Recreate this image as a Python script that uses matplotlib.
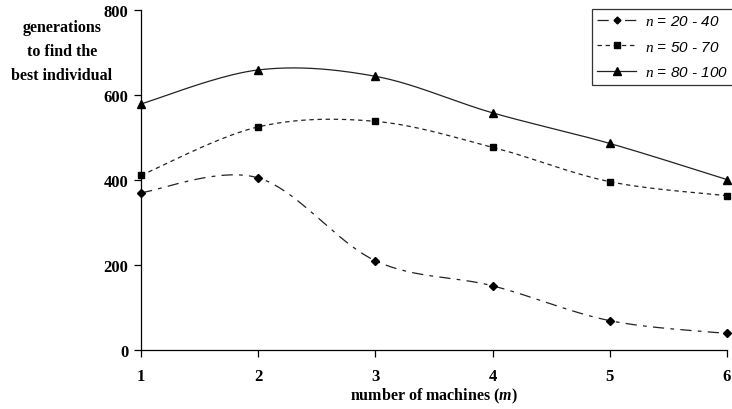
import numpy as np
import matplotlib
matplotlib.use("Agg")
import matplotlib.pyplot as plt
from matplotlib.lines import Line2D

plt.rcParams["mathtext.fontset"] = "custom"
plt.rcParams["mathtext.it"] = "Liberation Serif:italic"
plt.rcParams["mathtext.bfit"] = "Liberation Serif:italic:bold"
plt.rcParams["mathtext.rm"] = "Liberation Serif"

machines = [1, 2, 3, 4, 5, 6]
n_20_40 = [370, 405, 210, 151, 69, 39]
n_50_70 = [411, 525, 538, 477, 396, 363]
n_80_100 = [579, 659, 644, 558, 486, 401]
labels = [" = 20 - 40", " = 50 - 70", " = 80 - 100"]
yticks = [0, 200, 400, 600, 800]


def smooth(x, y, n=40):
    """Excel-like smoothing: Catmull-Rom Bezier through data points."""
    x = np.asarray(x, float)
    y = np.asarray(y, float)
    P = np.column_stack([x, y])
    out = []
    for i in range(len(P) - 1):
        p0 = P[i - 1] if i > 0 else P[i]
        p1 = P[i]
        p2 = P[i + 1]
        p3 = P[i + 2] if i + 2 < len(P) else P[i + 1]
        c1 = p1 + (p2 - p0) / 6.0
        c2 = p2 - (p3 - p1) / 6.0
        t = np.linspace(0, 1, n)[:, None]
        seg = ((1 - t) ** 3) * p1 + 3 * ((1 - t) ** 2) * t * c1 + 3 * (1 - t) * t ** 2 * c2 + t ** 3 * p2
        out.append(seg if i == 0 else seg[1:])
    s = np.vstack(out)
    return s[:, 0], s[:, 1]


fig = plt.figure(figsize=(7.32, 4.10), dpi=100)
ax = fig.add_axes([141 / 732, 1 - 351 / 410, (727 - 141) / 732, (351 - 11) / 410])

serif = "Liberation Serif"
col = "#000000"
lc = "#222222"
styles = [
    dict(ls=(0, (9, 5, 3, 5)), marker="D", ms=4),
    dict(ls=(0, (3.5, 3)), marker="s", ms=5),
    dict(ls="-", marker="^", ms=6),
]
series = [n_20_40, n_50_70, n_80_100]
handles = []
for vals, st in zip(series, styles):
    sx, sy = smooth(machines, vals)
    ax.plot(sx, sy, color=lc, lw=0.9, linestyle=st["ls"])
    ax.plot(machines, vals, linestyle="none", marker=st["marker"], ms=st["ms"],
            color=col, clip_on=False)
    handles.append(Line2D([], [], color=lc, lw=0.9, linestyle=st["ls"],
                          marker=st["marker"], ms=st["ms"] - 0.5, mfc=col, mec=col))

ax.set_xlim(1, 6)
ax.set_ylim(0, 800)
ax.set_xticks(machines)
ax.set_yticks(yticks)
ax.spines["top"].set_visible(False)
ax.spines["right"].set_visible(False)
for s in ["left", "bottom"]:
    ax.spines[s].set_linewidth(0.9)
ax.tick_params(direction="out", length=5, width=0.9, pad=4)
for lbl in ax.get_xticklabels() + ax.get_yticklabels():
    lbl.set_fontfamily(serif)
    lbl.set_fontweight("bold")
    lbl.set_fontsize(12)
ax.tick_params(axis="x", pad=8)

fig.text(62 / 732, 1 - 52 / 410, "generations\nto find the\nbest individual",
         ha="center", va="center", fontfamily=serif, fontweight="bold",
         fontsize=11.5, linespacing=1.7)
fig.text(434 / 732, 1 - 396 / 410, r"number of machines ($\mathbfit{m}$)",
         ha="center", va="center", fontfamily=serif, fontweight="bold", fontsize=11.5)

leg = fig.legend(handles, [r"$n$" + l for l in labels], loc="upper left",
                 bbox_to_anchor=(592 / 732, 1 - 10 / 410), frameon=True,
                 fancybox=False, edgecolor="black", handlelength=2.55,
                 handletextpad=0.6, borderpad=0.35, labelspacing=0.75,
                 borderaxespad=0,
                 prop=dict(family="Liberation Sans", style="italic", size=11))
leg.get_frame().set_linewidth(0.9)

fig.savefig("out.png", dpi=100)
